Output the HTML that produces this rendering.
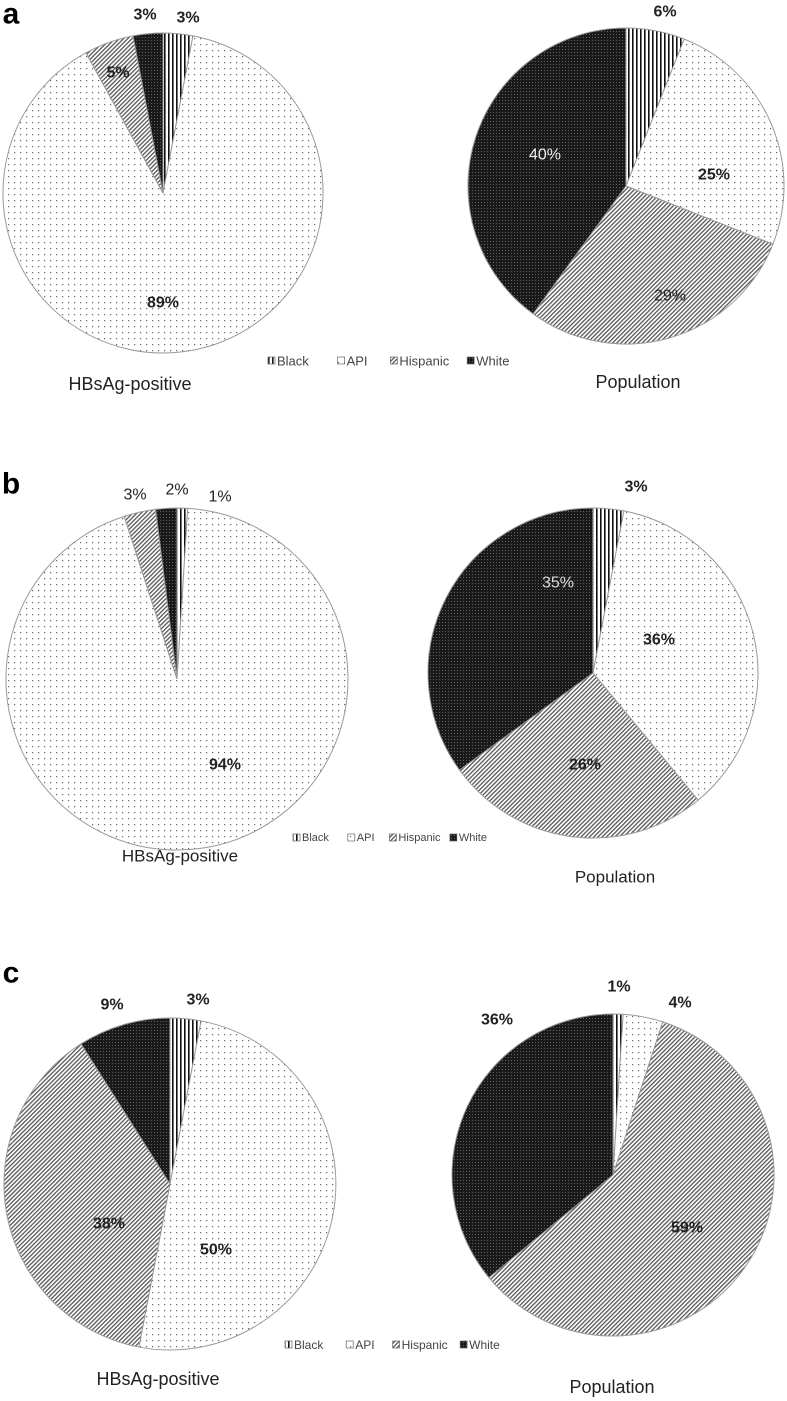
<!DOCTYPE html>
<html><head><meta charset="utf-8"><style>
html,body{margin:0;padding:0;background:#fff;}
body{width:787px;height:1401px;position:relative;overflow:hidden;font-family:"Liberation Sans",sans-serif;}
svg{position:absolute;left:0;top:0;}
</style></head><body>
<svg id="chart" width="787" height="1401" viewBox="0 0 787 1401">
<defs>
<pattern id="pBlack" width="4" height="4" patternUnits="userSpaceOnUse"><rect width="4" height="4" fill="#fff"/><rect x="0" width="1.6" height="4" fill="#111"/></pattern>
<pattern id="pAPI" width="6" height="6" patternUnits="userSpaceOnUse"><rect width="6" height="6" fill="#fff"/><rect x="2" y="2" width="1.2" height="1.2" fill="#666"/></pattern>
<pattern id="pHisp" width="3" height="3" patternUnits="userSpaceOnUse" patternTransform="rotate(45)"><rect width="3" height="3" fill="#fff"/><rect width="1.3" height="3" fill="#555"/></pattern>
<pattern id="pWhite" width="3" height="3" patternUnits="userSpaceOnUse"><rect width="3" height="3" fill="#1a1a1a"/><rect x="1" y="1" width="0.8" height="0.8" fill="#888"/></pattern>
</defs>
<g id="marks"></g>
</svg>
<script>
// Data (clockwise from 12 o'clock): Black, API, Hispanic, White
const categories = ["Black", "API", "Hispanic", "White"];
const aHBsAg = [3, 89, 5, 3];
const aPop = [6, 25, 29, 40];
const bHBsAg = [1, 94, 3, 2];
const bPop = [3, 36, 26, 35];
const cHBsAg = [3, 50, 38, 9];
const cPop = [1, 4, 59, 36];
const fills = ["url(#pBlack)", "url(#pAPI)", "url(#pHisp)", "url(#pWhite)"];

const NS = "http://www.w3.org/2000/svg";
const g = document.getElementById("marks");
function mk(tag, attrs, parent) {
  const e = document.createElementNS(NS, tag);
  for (const k in attrs) e.setAttribute(k, attrs[k]);
  (parent || g).appendChild(e);
  return e;
}
function txt(x, y, s, size, weight, color, name) {
  const t = mk("text", {x: x, y: y, "font-size": size, "font-weight": weight, fill: color, "text-anchor": "middle", "dominant-baseline": "central", "font-family": "Liberation Sans, sans-serif"});
  t.textContent = s;
  
  
  return t;
}
function angleScale(v, total) { return v / total * 2 * Math.PI; }
function pt(cx, cy, r, a) { return [cx + r * Math.sin(a), cy - r * Math.cos(a)]; }

function pie(id, vals, cx, cy, r, labels) {
  const grp = mk("g", {});
  
  
  const total = vals.reduce((s, v) => s + v, 0);
  let a0 = 0;
  vals.forEach((v, i) => {
    const a1 = a0 + angleScale(v, total);
    const p0 = pt(cx, cy, r, a0), p1 = pt(cx, cy, r, a1);
    const large = (a1 - a0) > Math.PI ? 1 : 0;
    const p = mk("path", {d: `M${cx},${cy} L${p0[0]},${p0[1]} A${r},${r} 0 ${large} 1 ${p1[0]},${p1[1]} Z`, fill: fills[i], stroke: "#9a9a9a", "stroke-width": 1}, grp);
    
    
    const L = labels[i];
    txt(L[0], L[1], vals[i] + "%", 16, L[2] ? "bold" : "normal", L[3] || "#222", id + '-label-' + categories[i].toLowerCase());
    a0 = a1;
  });
}
function legend(x, y, span, fs, name) {
  const lg = mk("g", {});
  
  
  const rel = [0, 0.29, 0.51, 0.83];
  categories.forEach((c, i) => {
    const cx = x + rel[i] * span;
    const r = mk("rect", {x: cx, y: y - 4, width: 7, height: 7, fill: fills[i], stroke: "#666", "stroke-width": 0.7}, lg);
    
    
    const t = mk("text", {x: cx + 9, y: y, "font-size": fs, fill: "#444", "dominant-baseline": "central", "font-family": "Liberation Sans, sans-serif"}, lg);
    t.textContent = c;
    
    
  });
}

// Panel a
txt(11, 14, "a", 30, "bold", "#000", "panel-a-letter");
pie("pie-a-hbsag", aHBsAg, 163, 193, 160, [[188, 18, true], [163, 303, true], [118, 73, true], [145, 15, true]]);
pie("pie-a-population", aPop, 626, 186, 158, [[665, 12, true], [714, 175, true], [670, 296, false], [545, 155, false, "#eee"]]);
legend(268, 361, 240, 13, "legend-a");
txt(130, 384, "HBsAg-positive", 18, "normal", "#222", "title-a-hbsag");
txt(638, 382, "Population", 18, "normal", "#222", "title-a-population");

// Panel b
txt(11, 484, "b", 30, "bold", "#000", "panel-b-letter");
pie("pie-b-hbsag", bHBsAg, 177, 679, 171, [[220, 497, false], [225, 765, true], [135, 495, false], [177, 490, false]]);
pie("pie-b-population", bPop, 593, 673, 165, [[636, 487, true], [659, 640, true], [585, 765, true], [558, 583, false, "#ddd"]]);
legend(293, 838, 189, 11, "legend-b");
txt(180, 856, "HBsAg-positive", 17, "normal", "#222", "title-b-hbsag");
txt(615, 877, "Population", 17, "normal", "#222", "title-b-population");

// Panel c
txt(11, 973, "c", 30, "bold", "#000", "panel-c-letter");
pie("pie-c-hbsag", cHBsAg, 170, 1184, 166, [[198, 1000, true], [216, 1250, true], [109, 1224, true], [112, 1005, true]]);
pie("pie-c-population", cPop, 613, 1175, 161, [[619, 987, true], [680, 1003, true], [687, 1228, true], [497, 1020, true]]);
legend(285, 1345, 211, 12, "legend-c");
txt(158, 1379, "HBsAg-positive", 18, "normal", "#222", "title-c-hbsag");
txt(612, 1387, "Population", 18, "normal", "#222", "title-c-population");
</script>
</body></html>
